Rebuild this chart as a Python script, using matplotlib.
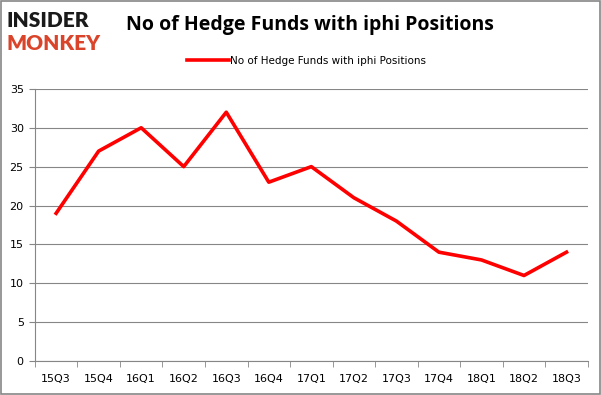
import matplotlib.pyplot as plt
from matplotlib.patches import Rectangle

quarters = ['15Q3', '15Q4', '16Q1', '16Q2', '16Q3', '16Q4', '17Q1',
            '17Q2', '17Q3', '17Q4', '18Q1', '18Q2', '18Q3']
funds = [19, 27, 30, 25, 32, 23, 25, 21, 18, 14, 13, 11, 14]
label = 'No of Hedge Funds with iphi Positions'

fig = plt.figure(figsize=(6.01, 3.95), dpi=100)
ax = fig.add_axes([0.058, 0.086, 0.920, 0.689])

x = list(range(len(quarters)))
line, = ax.plot(x, funds, color='#ff0000', linewidth=2.6, label=label)

ax.set_xlim(-0.5, len(quarters) - 0.5)
ax.set_ylim(0, 35)
ax.set_yticks(range(0, 36, 5))
ax.set_xticks(x)
ax.set_xticklabels(quarters)
ax.set_xticks([i - 0.5 for i in range(len(quarters) + 1)], minor=True)
ax.tick_params(axis='x', which='major', length=0, pad=9, labelsize=8)
ax.tick_params(axis='x', which='minor', length=4, color='#868686')
ax.tick_params(axis='y', length=4, color='#868686', labelsize=8, pad=4)
ax.grid(axis='y', color='#868686', linewidth=0.8)
ax.set_axisbelow(True)
for side in ['top', 'right']:
    ax.spines[side].set_visible(False)
for side in ['left', 'bottom']:
    ax.spines[side].set_color('#868686')

fig.text(0.516, 0.937, 'No of Hedge Funds with iphi Positions', ha='center', va='center',
         fontsize=14, fontweight='bold', family='Open Sans')
fig.legend(handles=[line], loc='center', bbox_to_anchor=(0.51, 0.846), frameon=False,
           fontsize=7.5, handlelength=4.0, handletextpad=0.1)

fig.text(0.010, 0.948, 'INSIDER', ha='left', va='center', fontsize=15,
         fontweight='heavy', color='#1a1a1a', family='Lato')
fig.text(0.010, 0.890, 'MONKEY', ha='left', va='center', fontsize=15,
         fontweight='heavy', color='#d9442a', family='Lato')

fig.patches.append(Rectangle((0.001, 0.002), 0.997, 0.995, transform=fig.transFigure,
                             fill=False, edgecolor='#868686', linewidth=1.2))

fig.savefig('out.png', dpi=100)
